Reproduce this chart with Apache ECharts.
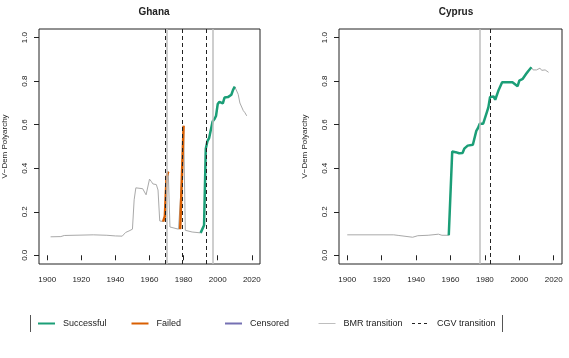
<!DOCTYPE html>
<html>
<head>
<meta charset="utf-8">
<script src="https://cdn.jsdelivr.net/npm/echarts@6/dist/echarts.min.js"></script>
<style>
html, body { margin: 0; padding: 0; background: #fff; }
#main { width: 569px; height: 358px; }
</style>
</head>
<body>
<div id="main"></div>
<script>
// Ghana, V-Dem polyarchy by year
var ghanaYears = [1902, 1908, 1910, 1927, 1935, 1940, 1944, 1946, 1948, 1950, 1951, 1952, 1956, 1957, 1958, 1959,
    1960, 1961, 1962, 1964, 1965, 1966, 1967, 1968, 1969, 1970, 1971, 1972, 1973, 1977, 1978, 1979, 1980,
    1981, 1982, 1985, 1990, 1991, 1992, 1993, 1994, 1995, 1996, 1997, 1998, 1999, 2000, 2001, 2002, 2003,
    2004, 2005, 2006, 2007, 2008, 2009, 2010, 2011, 2012, 2013, 2014, 2015, 2016, 2017];
var ghanaValues = [0.085, 0.086, 0.091, 0.094, 0.092, 0.089, 0.088, 0.105, 0.112, 0.120, 0.255, 0.310, 0.306, 0.300, 0.278, 0.278,
    0.350, 0.340, 0.328, 0.325, 0.300, 0.158, 0.158, 0.155, 0.180, 0.360, 0.385, 0.130, 0.124, 0.120, 0.120, 0.360, 0.595,
    0.115, 0.110, 0.107, 0.103, 0.107, 0.138, 0.490, 0.525, 0.540, 0.548, 0.615, 0.625, 0.640, 0.695, 0.705, 0.708, 0.698,
    0.725, 0.728, 0.727, 0.728, 0.738, 0.760, 0.775, 0.768, 0.740, 0.700, 0.692, 0.665, 0.655, 0.641];
var ghanaSuccess = [[1990, 2010]];
var ghanaFailed = [[1968, 1971], [1978, 1980]];
var ghanaBMR = [1970, 1997];
var ghanaCGV = [1969, 1979, 1993];

// Cyprus
var cyprusYears = [1900, 1927, 1930, 1931, 1938, 1941, 1947, 1953, 1955, 1959, 1961, 1963, 1965, 1967, 1968, 1970,
    1973, 1974, 1975, 1976, 1977, 1979, 1981, 1982, 1983, 1984, 1985, 1986, 1987, 1988, 1990, 1996, 1997, 1999,
    2000, 2002, 2003, 2004, 2005, 2007, 2008, 2009, 2010, 2011, 2012, 2013, 2014, 2015, 2016, 2017];
var cyprusValues = [0.094, 0.094, 0.091, 0.083, 0.083, 0.090, 0.092, 0.097, 0.092, 0.092, 0.477, 0.474, 0.469, 0.470, 0.490, 0.504,
    0.508, 0.512, 0.572, 0.585, 0.605, 0.605, 0.655, 0.680, 0.728, 0.736, 0.730, 0.715, 0.720, 0.760, 0.795, 0.795, 0.790, 0.777,
    0.803, 0.811, 0.815, 0.834, 0.845, 0.864, 0.852, 0.850, 0.852, 0.856, 0.860, 0.850, 0.853, 0.852, 0.846, 0.841];
var cyprusSuccess = [[1959, 2007]];
var cyprusFailed = [];
var cyprusBMR = [1977];
var cyprusCGV = [1983];

var xTicks = [1900, 1920, 1940, 1960, 1980, 2000, 2020];
var yTicks = [0, 0.2, 0.4, 0.6, 0.8, 1.0];
var legendNames = ['Successful', 'Failed', 'Censored', 'BMR transition', 'CGV transition'];

var GREEN = '#1b9e77', ORANGE = '#d95f02', PURPLE = '#7570b3', GREY = '#a9a9a9', LIGHT = '#bebebe', INK = '#222';
var FONT = 'Liberation Sans, Arial, sans-serif';

function zip(xs, ys) {
    var out = [];
    for (var i = 0; i < xs.length; i++) out.push([xs[i], ys[i]]);
    return out;
}

function spell(data, range) {
    return data.filter(function (d) { return d[0] >= range[0] && d[0] <= range[1]; });
}

function panelSeries(idx, years, values, success, failed, bmr, cgv) {
    var data = zip(years, values);
    var list = [];
    list.push({
        type: 'line', xAxisIndex: idx, yAxisIndex: idx, data: data, symbol: 'none', silent: true,
        lineStyle: { color: GREY, width: 1 }, z: 2,
        markLine: {
            symbol: 'none', silent: true, label: { show: false }, animation: false,
            data: bmr.map(function (y) { return { xAxis: y, lineStyle: { color: LIGHT, width: 1.5, type: 'solid' } }; })
                .concat(cgv.map(function (y) { return { xAxis: y, lineStyle: { color: INK, width: 1, type: [4, 3] } }; }))
        }
    });
    success.forEach(function (r) {
        list.push({ type: 'line', xAxisIndex: idx, yAxisIndex: idx, data: spell(data, r), symbol: 'none', silent: true,
            lineStyle: { color: GREEN, width: 2.5 }, z: 3 });
    });
    failed.forEach(function (r) {
        list.push({ type: 'line', xAxisIndex: idx, yAxisIndex: idx, data: spell(data, r), symbol: 'none', silent: true,
            lineStyle: { color: ORANGE, width: 2.5 }, z: 3 });
    });
    return list;
}

function xAxisOf(idx) {
    return {
        type: 'value', gridIndex: idx, min: 1895.2, max: 2024.8,
        axisLine: { show: false },
        axisTick: { show: true, length: 5, customValues: xTicks, lineStyle: { color: INK } },
        axisLabel: { customValues: xTicks, fontSize: 8, color: INK, fontFamily: FONT, margin: 12,
            formatter: function (v) { return String(v); } },
        splitLine: { show: false }
    };
}

function yAxisOf(idx) {
    return {
        type: 'value', gridIndex: idx, min: -0.04, max: 1.04,
        name: 'V\u2212Dem Polyarchy', nameLocation: 'middle', nameRotate: 90, nameGap: 30,
        nameTextStyle: { fontSize: 8, color: INK, fontFamily: FONT },
        axisLine: { show: false },
        axisTick: { show: true, length: 5, customValues: yTicks, lineStyle: { color: INK } },
        axisLabel: { customValues: yTicks, rotate: 90, fontSize: 8, color: INK, fontFamily: FONT, margin: 10,
            formatter: function (v) { return v.toFixed(1); } },
        splitLine: { show: false }
    };
}

var legendColors = [GREEN, ORANGE, PURPLE, LIGHT, INK];
var legendGraphics = [
    { type: 'line', shape: { x1: 30.5, y1: 315, x2: 30.5, y2: 332 }, style: { stroke: '#555', lineWidth: 1 } },
    { type: 'line', shape: { x1: 502.5, y1: 315, x2: 502.5, y2: 332 }, style: { stroke: '#555', lineWidth: 1 } }
];
legendNames.forEach(function (name, i) {
    var x0 = 38 + i * 93.5;
    legendGraphics.push({
        type: 'line', shape: { x1: x0, y1: 323.5, x2: x0 + 17, y2: 323.5 },
        style: { stroke: legendColors[i], lineWidth: i >= 3 ? 1 : 2, lineDash: i === 4 ? [3, 3] : null }
    });
    legendGraphics.push({
        type: 'text', x: x0 + 25, y: 323.5,
        style: { text: name, fontSize: 9, fill: INK, fontFamily: FONT, verticalAlign: 'middle' }
    });
});

var chart = echarts.init(document.getElementById('main'), null, { renderer: 'canvas' });
chart.setOption({
    animation: false,
    backgroundColor: '#fff',
    title: [
        { text: 'Ghana', left: 149, top: 2, textAlign: 'center', textStyle: { fontSize: 10, fontWeight: 'bold', color: INK, fontFamily: FONT } },
        { text: 'Cyprus', left: 451, top: 2, textAlign: 'center', textStyle: { fontSize: 10, fontWeight: 'bold', color: INK, fontFamily: FONT } }
    ],
    grid: [
        { left: 38, top: 29, width: 222, height: 235, show: true, borderColor: INK, borderWidth: 1, backgroundColor: 'transparent' },
        { left: 339, top: 29, width: 223, height: 235, show: true, borderColor: INK, borderWidth: 1, backgroundColor: 'transparent' }
    ],
    xAxis: [xAxisOf(0), xAxisOf(1)],
    yAxis: [yAxisOf(0), yAxisOf(1)],
    series: panelSeries(0, ghanaYears, ghanaValues, ghanaSuccess, ghanaFailed, ghanaBMR, ghanaCGV)
        .concat(panelSeries(1, cyprusYears, cyprusValues, cyprusSuccess, cyprusFailed, cyprusBMR, cyprusCGV)),
    graphic: legendGraphics
});
</script>
</body>
</html>
